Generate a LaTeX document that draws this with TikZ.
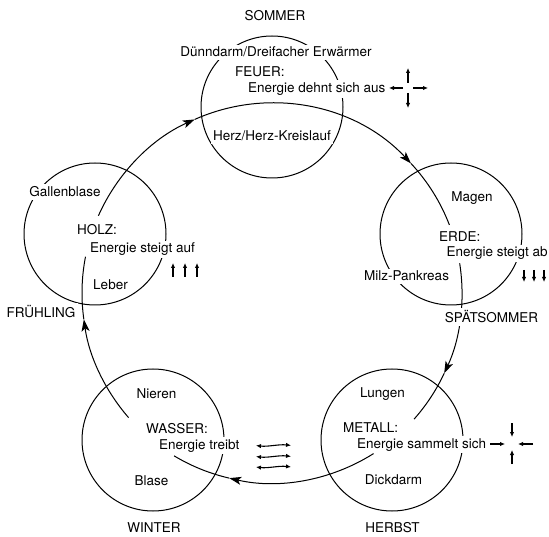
\documentclass[tikz,border=0pt]{standalone}
\usepackage{fontspec}
\setmainfont{TeX Gyre Heros}
\usetikzlibrary{arrows.meta}
\begin{document}
\begin{tikzpicture}[x=1pt,y=-1pt,
  organ/.style={circle,draw,line width=1pt,minimum size=142pt,inner sep=0pt},
  lbl/.style={fill=white,inner sep=2.5pt,font=\fontsize{13.5}{16}\selectfont},
  cyc/.style={line width=1pt},
  headed/.style={-{Stealth[length=12pt,width=8pt,inset=3pt]}},
  glyph/.style={line width=1.1pt,-{Latex[length=5pt,width=4.5pt]}},
  dglyph/.style={line width=1.1pt,{Latex[length=5pt,width=4.5pt]}-{Latex[length=5pt,width=4.5pt]}}
]
\useasboundingbox (0,0) rectangle (549,537);
% element circles
\node[organ] (feuer) at (272,107) {};
\node[organ] (erde) at (451,234) {};
\node[organ] (metall) at (392,440) {};
\node[organ] (wasser) at (153,440) {};
\node[organ] (holz) at (95,234) {};
% cycle
\coordinate (C) at (272,293);
\coordinate (a0) at ([shift={(-156:190)}]C);
\coordinate (a1) at ([shift={(-114:190)}]C);
\coordinate (a2) at ([shift={(-43:190)}]C);
\coordinate (b0) at ([shift={(-9:190)}]C);
\coordinate (b1) at ([shift={(25:190)}]C);
\coordinate (c0) at ([shift={(57.7:190)}]C);
\coordinate (c1) at ([shift={(103:190)}]C);
\coordinate (d0) at ([shift={(139:190)}]C);
\coordinate (d1) at ([shift={(172:190)}]C);
\draw[cyc,headed] (a0) arc[start angle=-156,end angle=-114,radius=190];
\draw[cyc,headed] (a1) arc[start angle=-114,end angle=-43,radius=190];
\draw[cyc] (a2) arc[start angle=-43,end angle=-21,radius=190];
\draw[cyc,headed] (b0) arc[start angle=-9,end angle=25,radius=190];
\draw[cyc] (b1) arc[start angle=25,end angle=41.6,radius=190];
\draw[cyc,headed] (c0) arc[start angle=57.7,end angle=103,radius=190];
\draw[cyc] (c1) arc[start angle=103,end angle=121,radius=190];
\draw[cyc,headed] (d0) arc[start angle=139,end angle=172,radius=190];
\draw[cyc] (d1) arc[start angle=172,end angle=191,radius=190];
% FEUER
\node[lbl,anchor=base] (sommer) at (275,20.7) {SOMMER};
\node[lbl,anchor=base] (duenn) at (276,57) {Dünndarm/Dreifacher Erwärmer};
\node[lbl,anchor=base west] (feuerl) at (232.5,77) {FEUER:};
\node[lbl,anchor=base west] (feuere) at (245.5,92.7) {Energie dehnt sich aus};
\node[lbl,anchor=base] (herz) at (272,141) {Herz/Herz-Kreislauf};
% ERDE
\node[lbl,anchor=base] (magen) at (472,202) {Magen};
\node[lbl,anchor=base west] (erdel) at (436.5,242) {ERDE:};
\node[lbl,anchor=base west] (erdee) at (444,257) {Energie steigt ab};
\node[lbl,anchor=base] (milz) at (406.5,281) {Milz-Pankreas};
\node[lbl,anchor=base] (spaet) at (491.5,323) {SPÄTSOMMER};
% HOLZ
\node[lbl,anchor=base] (galle) at (65,197) {Gallenblase};
\node[lbl,anchor=base west] (holzl) at (74.5,235) {HOLZ:};
\node[lbl,anchor=base west] (holze) at (87.5,253) {Energie steigt auf};
\node[lbl,anchor=base] (leber) at (110.5,290) {Leber};
\node[lbl,anchor=base] (frueh) at (41,318) {FRÜHLING};
% METALL
\node[lbl,anchor=base] (lungen) at (382.5,397) {Lungen};
\node[lbl,anchor=base west] (metalll) at (340.5,432) {METALL:};
\node[lbl,anchor=base west] (metalle) at (354.5,448) {Energie sammelt sich};
\node[lbl,anchor=base] (dick) at (393.5,484) {Dickdarm};
\node[lbl,anchor=base] (herbst) at (392.5,532) {HERBST};
% WASSER
\node[lbl,anchor=base] (nieren) at (156.5,399) {Nieren};
\node[lbl,anchor=base west] (wasserl) at (143.5,433) {WASSER:};
\node[lbl,anchor=base west] (wassere) at (156.5,449) {Energie treibt};
\node[lbl,anchor=base] (blase) at (151.5,485) {Blase};
\node[lbl,anchor=base] (winter) at (154,532) {WINTER};
% direction glyphs
\draw[glyph] (408,83) -- (408,68);
\draw[glyph] (408,93) -- (408,108);
\draw[glyph] (403,88) -- (389,88);
\draw[glyph] (413,88) -- (428,88);
\draw[glyph] (490,444) -- (505,444);
\draw[glyph] (512,423) -- (512,437);
\draw[glyph] (512,464) -- (512,450);
\draw[glyph] (533,444) -- (518,444);
\foreach \xx in {173,185,197} \draw[glyph] (\xx,277) -- (\xx,263);
\foreach \xx in {524,534,544} \draw[glyph] (\xx,270) -- (\xx,282);
\foreach \yy in {445.5,456.5,467} \draw[dglyph] (256,\yy) .. controls (268,\yy+1.5) and (279,\yy-1.5) .. (291,\yy);
\end{tikzpicture}
\end{document}
